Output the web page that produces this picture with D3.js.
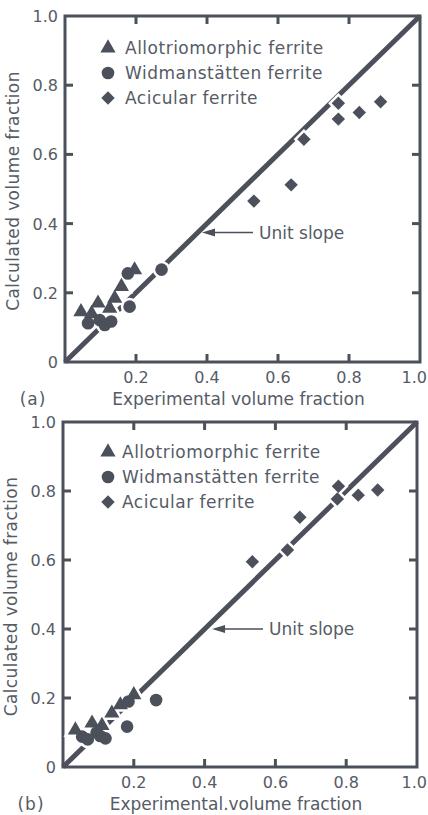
<!DOCTYPE html>
<html>
<head>
<meta charset="utf-8">
<script src="https://cdn.jsdelivr.net/npm/d3@7"></script>
<style>
  body { margin: 0; background: #fff; }
  text { font-family: "DejaVu Sans", sans-serif; fill: #565b66; }
</style>
</head>
<body>
<div id="chart"></div>
<script>
// panel (a) values: [experimental, calculated]
const allotrioA = [[0.045, 0.145], [0.093, 0.17], [0.075, 0.14], [0.126, 0.155], [0.14, 0.184], [0.159, 0.218], [0.196, 0.266]];
const widmanA = [[0.065, 0.112], [0.098, 0.121], [0.112, 0.107], [0.13, 0.117], [0.182, 0.16], [0.177, 0.256], [0.272, 0.267]];
const acicularA = [[0.532, 0.465], [0.637, 0.512], [0.673, 0.644], [0.77, 0.748], [0.77, 0.702], [0.829, 0.721], [0.889, 0.752]];

// panel (b) values
const allotrioB = [[0.035, 0.107], [0.082, 0.127], [0.11, 0.12], [0.138, 0.156], [0.162, 0.18], [0.2, 0.209]];
const widmanB = [[0.054, 0.088], [0.07, 0.08], [0.095, 0.1], [0.105, 0.09], [0.12, 0.083], [0.181, 0.117], [0.185, 0.19], [0.263, 0.194]];
const acicularB = [[0.535, 0.595], [0.634, 0.629], [0.669, 0.724], [0.778, 0.814], [0.775, 0.777], [0.834, 0.788], [0.889, 0.803]];

const xTicks = [0.2, 0.4, 0.6, 0.8, 1.0];
const yTicks = [0, 0.2, 0.4, 0.6, 0.8, 1.0];
const legendLabels = ["Allotriomorphic ferrite", "Widmanstätten ferrite", "Acicular ferrite"];

const ink = "#4b505b";
const svg = d3.select("#chart").append("svg").attr("width", 428).attr("height", 815);

const symTri = d3.symbol().type(d3.symbolTriangle).size(100);
const symCirc = d3.symbol().type(d3.symbolCircle).size(125);
const symDia = d3.symbol().type(d3.symbolSquare).size(90);

function drawPanel(cfg) {
    const x = d3.scaleLinear().domain([0, 1]).range(cfg.xr);
    const y = d3.scaleLinear().domain([0, 1]).range(cfg.yr);
    const g = svg.append("g");

    // frame
    g.append("rect")
        .attr("x", x(0)).attr("y", y(1))
        .attr("width", x(1) - x(0)).attr("height", y(0) - y(1))
        .attr("fill", "none").attr("stroke", ink).attr("stroke-width", 3);

    // inward ticks on all four sides
    const tl = 8;
    xTicks.slice(0, -1).forEach(t => {
        g.append("line").attr("x1", x(t)).attr("x2", x(t)).attr("y1", y(0)).attr("y2", y(0) - tl)
            .attr("stroke", ink).attr("stroke-width", 3);
        g.append("line").attr("x1", x(t)).attr("x2", x(t)).attr("y1", y(1)).attr("y2", y(1) + tl)
            .attr("stroke", ink).attr("stroke-width", 3);
    });
    yTicks.slice(1, -1).forEach(t => {
        g.append("line").attr("x1", x(0)).attr("x2", x(0) + tl).attr("y1", y(t)).attr("y2", y(t))
            .attr("stroke", ink).attr("stroke-width", 3);
        g.append("line").attr("x1", x(1)).attr("x2", x(1) - tl).attr("y1", y(t)).attr("y2", y(t))
            .attr("stroke", ink).attr("stroke-width", 3);
    });

    // tick labels
    g.selectAll(".xl").data(xTicks).enter().append("text")
        .attr("x", d => d === 1 ? 427 : x(d)).attr("y", y(0) + 21)
        .attr("text-anchor", d => d === 1 ? "end" : "middle").style("font-size", "16px")
        .text(d => d3.format(".1f")(d));
    g.selectAll(".yl").data(yTicks).enter().append("text")
        .attr("x", x(0) - 7).attr("y", d => y(d) + 6)
        .attr("text-anchor", "end").style("font-size", "16px")
        .text(d => d === 0 ? "0" : d3.format(".1f")(d));

    // axis titles
    g.append("text")
        .attr("x", (x(0) + x(1)) / 2 - 4).attr("y", y(0) + 43)
        .attr("text-anchor", "middle").style("font-size", "17px")
        .text(cfg.xTitle);
    g.append("text")
        .attr("transform", `translate(${x(0) - 46},${(y(0) + y(1)) / 2 + 2}) rotate(-90)`)
        .attr("text-anchor", "middle").style("font-size", "17px").style("letter-spacing", "0.4px")
        .text("Calculated volume fraction");
    g.append("text")
        .attr("x", cfg.tagX).attr("y", y(0) + 43)
        .attr("text-anchor", "middle").style("font-size", "17px").style("letter-spacing", "1px")
        .text(cfg.tag);

    // unit slope line
    g.append("line")
        .attr("x1", x(0)).attr("y1", y(0)).attr("x2", x(1)).attr("y2", y(1))
        .attr("stroke", ink).attr("stroke-width", 5);

    const series = [
        { data: cfg.tri, sym: symTri, rot: 0 },
        { data: cfg.circ, sym: symCirc, rot: 0 },
        { data: cfg.dia, sym: symDia, rot: 45 }
    ];

    // white halos cut the line under the markers
    series.forEach(s => {
        g.append("g").selectAll("path").data(s.data).enter().append("path")
            .attr("d", s.sym)
            .attr("transform", d => `translate(${x(d[0])},${y(d[1])}) rotate(${s.rot})`)
            .attr("fill", "#fff").attr("stroke", "#fff").attr("stroke-width", 5);
    });
    series.forEach(s => {
        g.append("g").selectAll("path").data(s.data).enter().append("path")
            .attr("d", s.sym)
            .attr("transform", d => `translate(${x(d[0])},${y(d[1])}) rotate(${s.rot})`)
            .attr("fill", ink);
    });

    // legend
    const lg = g.append("g").attr("transform", `translate(${cfg.legX},${cfg.legY})`);
    series.forEach((s, i) => {
        lg.append("path").attr("d", s.sym)
            .attr("transform", `translate(0,${i * 25}) rotate(${s.rot})`)
            .attr("fill", ink);
        lg.append("text").attr("x", cfg.legDx).attr("y", i * 25 + 6)
            .style("font-size", "17px").style("letter-spacing", "0.5px")
            .text(legendLabels[i]);
    });

    // arrow annotation
    const ax = x(cfg.arrow[0]), ay = y(cfg.arrow[1]);
    g.append("line").attr("x1", ax + 6).attr("y1", ay).attr("x2", ax + 51).attr("y2", ay)
        .attr("stroke", ink).attr("stroke-width", 1.5);
    g.append("path")
        .attr("d", `M${ax},${ay} L${ax + 13},${ay - 4} L${ax + 13},${ay + 4} Z`)
        .attr("fill", ink);
    g.append("text").attr("x", ax + 57).attr("y", ay + 6)
        .style("font-size", "17px").text("Unit slope");
}

drawPanel({
    xr: [65, 420], yr: [362, 16],
    tri: allotrioA, circ: widmanA, dia: acicularA,
    xTitle: "Experimental volume fraction", tag: "(a)", tagX: 33,
    legX: 108, legY: 48, legDx: 17,
    arrow: [0.386, 0.374]
});

drawPanel({
    xr: [63, 417], yr: [767, 422],
    tri: allotrioB, circ: widmanB, dia: acicularB,
    xTitle: "Experimental.volume fraction", tag: "(b)", tagX: 31,
    legX: 108, legY: 452, legDx: 14,
    arrow: [0.421, 0.4]
});
</script>
</body>
</html>
